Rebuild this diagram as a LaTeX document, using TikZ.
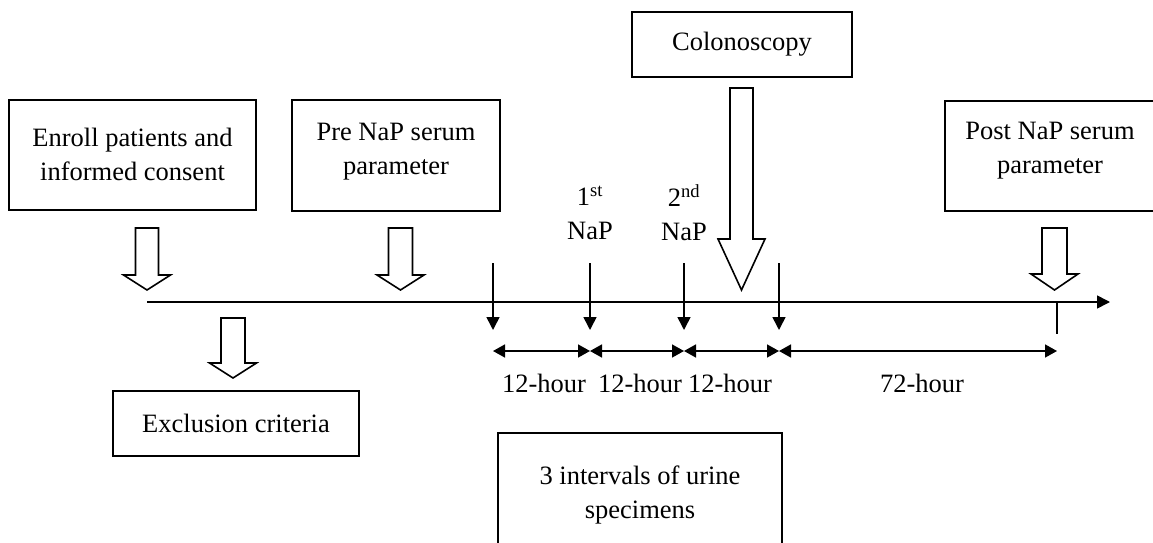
\documentclass[tikz,border=0pt]{standalone}
\usepackage{fontspec}
\setmainfont{Liberation Serif}
\usetikzlibrary{arrows.meta}
\begin{document}
\begin{tikzpicture}[x=1pt,y=-1pt,
  font=\fontsize{26.5}{34}\selectfont,
  txt/.style={align=center, inner sep=0pt},
  boxline/.style={draw=black, line width=1.7pt},
  blk/.style={draw=black, line width=1.6pt, fill=white, line join=miter},
  thin/.style={draw=black, line width=1.6pt},
  tip/.style={-{Triangle[length=13pt,width=13pt]}},
  dtip/.style={{Triangle[length=12pt,width=13pt]}-{Triangle[length=12pt,width=13pt]}}]
\useasboundingbox (0,0) rectangle (1153,543);

% boxes
\draw[boxline] (9,100) rectangle (256,210);
\node[txt] (enroll) at (132.5,154) {Enroll patients and\\informed consent};
\draw[boxline] (292,100) rectangle (500,211);
\node[txt] (pre) at (396,152) {Pre NaP serum\\parameter};
\draw[boxline] (632,12) rectangle (852,77);
\node[txt] (colo) at (742,44) {Colonoscopy};
\draw[boxline] (1153,101) -- (945,101) -- (945,211) -- (1153,211);
\node[txt] (post) at (1050,151) {Post NaP serum\\parameter};
\draw[boxline] (113,391) rectangle (359,456);
\node[txt] (excl) at (236,423) {Exclusion criteria};
\draw[boxline] (498,543) -- (498,433) -- (782,433) -- (782,543);
\node[txt] (urine) at (640,495) {3 intervals of urine\\specimens};

% timeline
\coordinate (tl0) at (147,302);
\coordinate (tl1) at (1110,302);
\draw[thin,tip] (tl0) -- (tl1);
\coordinate (tick0) at (1057,302);
\coordinate (tick1) at (1057,334);
\draw[thin] (tick0) -- (tick1);

% block arrows
\newcommand{\blockarrow}[6]{% center x, top, base, tip, shaft half, head half
  \draw[blk] ({#1-#5},#2) -- ({#1+#5},#2) -- ({#1+#5},#3) -- ({#1+#6},#3)
    -- (#1,#4) -- ({#1-#6},#3) -- ({#1-#5},#3) -- cycle;}
\blockarrow{147}{228}{275}{290}{11.5}{23.5}
\blockarrow{400.5}{228}{275}{290}{12}{23.5}
\blockarrow{233}{318}{363}{378}{12}{23.5}
\blockarrow{1054.5}{228}{274}{290}{12.5}{23.5}
\blockarrow{741.5}{88}{239}{290}{11.5}{23.5}

% NaP labels
\node[txt] (nap1) at (590,213) {1\textsuperscript{st}\\NaP};
\node[txt] (nap2) at (684,213) {2\textsuperscript{nd}\\NaP};

% event arrows
\foreach \n/\x in {a/493,b/590,c/684,d/779}{
  \coordinate (\n0) at (\x,263);
  \coordinate (\n1) at (\x,330);
  \coordinate (\n2) at (\x,351);
  \draw[thin,tip] (\n0) -- (\n1);
}
\coordinate (e2) at (1057,351);
\draw[thin,dtip] (a2) -- (b2);
\draw[thin,dtip] (b2) -- (c2);
\draw[thin,dtip] (c2) -- (d2);
\draw[thin,dtip] (d2) -- (e2);

\node[txt] (h1) at (544,383) {12-hour};
\node[txt] (h2) at (640,383) {12-hour};
\node[txt] (h3) at (730,383) {12-hour};
\node[txt] (h4) at (922,383) {72-hour};
\end{tikzpicture}
\end{document}
